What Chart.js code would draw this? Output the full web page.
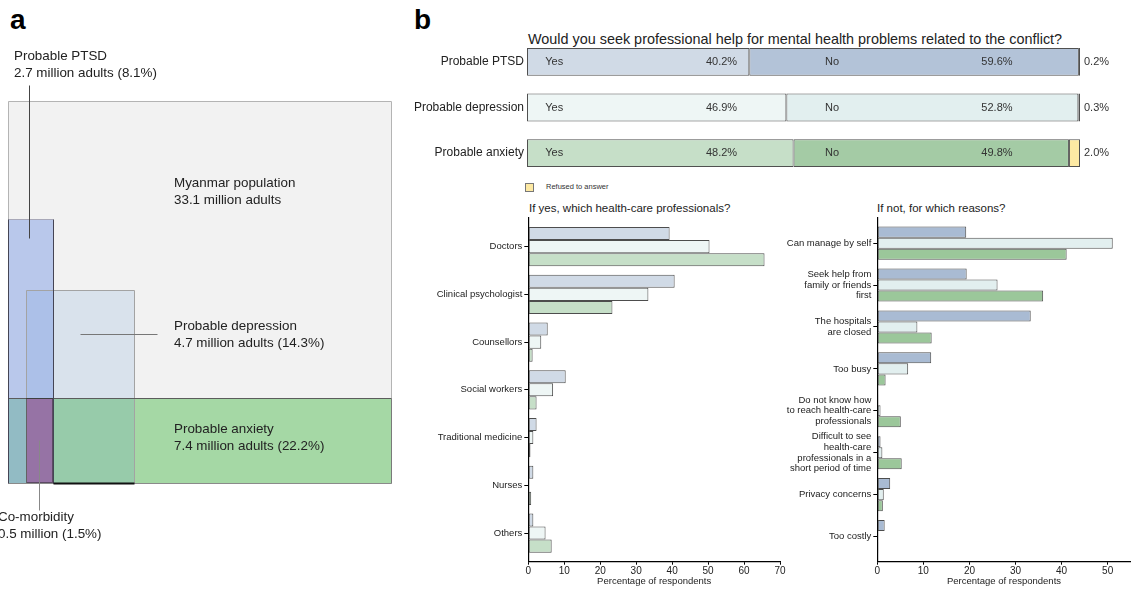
<!DOCTYPE html>
<html>
<head>
<meta charset="utf-8">
<script src="https://cdn.jsdelivr.net/npm/chart.js@4.4.0/dist/chart.umd.min.js"></script>
<style>
  html, body { margin: 0; padding: 0; background: #fff; width: 1139px; height: 589px; overflow: hidden;
    font-family: "Liberation Sans", Arial, sans-serif; }
  canvas { position: absolute; }
  .t { position: absolute; white-space: nowrap; color: #222; line-height: 1; }
  .key { position: absolute; left: 525px; top: 183px; width: 7px; height: 7px; background: #fde9a3; border: 1px solid #777; }
</style>
</head>
<body>
<div class="t" style="left:10px;top:6px;font-size:28px;font-weight:bold;color:#000">a</div>
<div class="t" style="left:414px;top:6px;font-size:28px;font-weight:bold;color:#000">b</div>
<div class="t" style="left:528px;top:32px;font-size:14.4px;">Would you seek professional help for mental health problems related to the conflict?</div>
<div class="key"></div>
<div class="t" id="keyText" style="left:546px;top:183px;font-size:7.5px;color:#333"></div>
<div class="t" style="left:529px;top:203px;font-size:11.5px;">If yes, which health-care professionals?</div>
<div class="t" style="left:877px;top:203px;font-size:11.5px;">If not, for which reasons?</div>

<canvas id="venn" width="400" height="589" style="left:0;top:0"></canvas>
<canvas id="seek" width="739" height="161" style="left:400px;top:27px"></canvas>
<canvas id="prof" width="400" height="389" style="left:400px;top:200px"></canvas>
<canvas id="reason" width="359" height="389" style="left:780px;top:200px"></canvas>

<script>
// ---- data ----
const groups = ['Probable PTSD', 'Probable depression', 'Probable anxiety'];
const prevalencePct = [8.1, 14.3, 22.2];
const prevalenceMillions = [2.7, 4.7, 7.4];
const populationMillions = 33.1;
const comorbidityPct = 1.5;
const comorbidityMillions = 0.5;

const answers = ['Yes', 'No', 'Refused to answer'];
const seekYes = [40.2, 46.9, 48.2];
const seekNo = [59.6, 52.8, 49.8];
const seekRefused = [0.2, 0.3, 2.0];

const professionals = ['Doctors', 'Clinical psychologist', 'Counsellors', 'Social workers',
  'Traditional medicine', 'Nurses', 'Others'];
const profPTSD = [39.3, 40.7, 5.4, 10.4, 2.3, 1.4, 1.4];
const profDepression = [50.4, 33.4, 3.6, 6.9, 1.4, 0, 4.8];
const profAnxiety = [65.7, 23.4, 1.2, 2.3, 0.6, 0.8, 6.5];

const reasons = [
  ['Can manage by self'],
  ['Seek help from', 'family or friends', 'first'],
  ['The hospitals', 'are closed'],
  ['Too busy'],
  ['Do not know how', 'to reach health-care', 'professionals'],
  ['Difficult to see', 'health-care', 'professionals in a', 'short period of time'],
  ['Privacy concerns'],
  ['Too costly']
];
const reasonPTSD = [19.3, 19.4, 33.3, 11.7, 0.2, 0.7, 2.8, 1.6];
const reasonDepression = [51.1, 26.1, 8.7, 6.7, 0.7, 1.1, 1.4, 0];
const reasonAnxiety = [41.1, 36.0, 11.8, 1.8, 5.1, 5.3, 1.2, 0.2];

// ---- styling ----
const FONT = '"Liberation Sans", Arial, sans-serif';
Chart.defaults.font.family = FONT;
Chart.defaults.color = '#222';

const yesColors = ['#d0dae6', '#eef6f5', '#c6dfc8'];
const noColors = ['#b3c3d8', '#e2efef', '#a4cba5'];
const refusedColor = '#fde9a3';
const reasonColors = ['#a9bbd3', '#e2efef', '#9bc79a'];

document.getElementById('keyText').textContent = answers[2];

// ---- panel a: population boxes drawn in percent-of-box units ----
const ptsdHeight = 69.1;     // share of box height used by the PTSD block
const deprHeight = 50.5;     // share of box height used by the depression block
const deprLeft = 4.7;        // horizontal offset of the depression block
const ptsdBox = [0, prevalencePct[0] / ptsdHeight * 100, 0, ptsdHeight];
const deprBox = [deprLeft, deprLeft + prevalencePct[1] / deprHeight * 100, 0, deprHeight];
const anxBox = [0, 100, 0, prevalencePct[2]];
const comorbBox = [deprLeft, ptsdBox[1], 0, anxBox[3]];

const vennPlugin = {
  id: 'vennBoxes',
  beforeDatasetsDraw(chart) {
    const { ctx, scales: { x, y } } = chart;
    const px = ([x0, x1, y0, y1]) => {
      const l = Math.round(x.getPixelForValue(x0)), r = Math.round(x.getPixelForValue(x1));
      const t = Math.round(y.getPixelForValue(y1)), b = Math.round(y.getPixelForValue(y0));
      return [l, t, r - l, b - t];
    };
    const edge = (x0, y0, x1, y1, color, w = 1) => {
      ctx.save();
      ctx.strokeStyle = color; ctx.lineWidth = w;
      ctx.beginPath();
      ctx.moveTo(Math.round(x.getPixelForValue(x0)) + 0.5, Math.round(y.getPixelForValue(y0)) + 0.5);
      ctx.lineTo(Math.round(x.getPixelForValue(x1)) + 0.5, Math.round(y.getPixelForValue(y1)) + 0.5);
      ctx.stroke();
      ctx.restore();
    };
    const outline = ([x0, x1, y0, y1], color) => {
      edge(x0, y1, x1, y1, color); edge(x1, y1, x1, y0, color);
      edge(x1, y0, x0, y0, color); edge(x0, y0, x0, y1, color);
    };

    ctx.save();
    ctx.fillStyle = '#f2f2f2';
    ctx.fillRect(...px([0, 100, 0, 100]));
    ctx.fillStyle = 'rgb(165,216,165)'; ctx.fillRect(...px(anxBox));
    ctx.fillStyle = 'rgba(75,135,202,0.15)'; ctx.fillRect(...px(deprBox));
    ctx.fillStyle = 'rgba(128,158,228,0.5)'; ctx.fillRect(...px(ptsdBox));
    ctx.fillStyle = '#9673a5'; ctx.fillRect(...px(comorbBox));
    ctx.restore();

    outline([0, 100, 0, 100], '#b4b4b4');
    outline(deprBox, '#a3a3a3');
    edge(anxBox[0], anxBox[3], anxBox[1], anxBox[3], '#5c5c5c');
    edge(anxBox[1], anxBox[3], anxBox[1], anxBox[2], '#7a7a7a');
    edge(anxBox[0], anxBox[2], anxBox[1], anxBox[2], '#8a8a8a');
    edge(ptsdBox[0], ptsdBox[3], ptsdBox[1], ptsdBox[3], '#a8a8b8');
    edge(ptsdBox[0], ptsdBox[2], ptsdBox[0], ptsdBox[3], '#454555');
    edge(ptsdBox[1], ptsdBox[2], ptsdBox[1], ptsdBox[3], '#454555');
    edge(ptsdBox[1], deprBox[2], deprBox[1], deprBox[2], '#111', 2);
    ctx.save();
    ctx.setLineDash([1, 1]);
    const [cl, ct, cw, ch] = px(comorbBox);
    ctx.strokeStyle = '#222'; ctx.lineWidth = 1;
    ctx.strokeRect(cl + 0.5, ct + 0.5, cw - 1, ch - 1);
    ctx.restore();

    // leader lines
    edge(5.5, 64.1, 5.5, 104.3, '#444');
    edge(18.8, 39.0, 38.9, 39.0, '#777');
    edge(8.1, 11.3, 8.1, -7.1, '#888');
  },
  afterDraw(chart) {
    const { ctx } = chart;
    ctx.save();
    ctx.fillStyle = '#222';
    ctx.font = '13.4px ' + FONT;
    ctx.textBaseline = 'alphabetic';
    const label = (lines, lx, ly) => lines.forEach((s, i) => ctx.fillText(s, lx, ly + i * 16.5));
    label([groups[0], `${prevalenceMillions[0]} million adults (${prevalencePct[0]}%)`], 14, 60);
    label(['Myanmar population', `${populationMillions} million adults`], 174, 187);
    label([groups[1], `${prevalenceMillions[1]} million adults (${prevalencePct[1]}%)`], 174, 330);
    label([groups[2], `${prevalenceMillions[2]} million adults (${prevalencePct[2]}%)`], 174, 433);
    label(['Co-morbidity', `${comorbidityMillions} million (${comorbidityPct}%)`], -2, 521);
    ctx.restore();
  }
};

new Chart(document.getElementById('venn'), {
  type: 'scatter',
  data: { datasets: [] },
  options: {
    responsive: false, animation: false,
    layout: { padding: { left: 8, top: 101, right: 9, bottom: 106 } },
    plugins: { legend: { display: false }, tooltip: { enabled: false } },
    scales: {
      x: { type: 'linear', min: 0, max: 100, display: false },
      y: { type: 'linear', min: 0, max: 100, display: false }
    }
  },
  plugins: [vennPlugin]
});

// ---- panel b top: stacked answers ----
const seekLabels = {
  id: 'seekLabels',
  afterDatasetsDraw(chart) {
    const { ctx, scales: { x } } = chart;
    ctx.save();
    ctx.font = '11px ' + FONT;
    ctx.fillStyle = '#333';
    ctx.textBaseline = 'middle';
    chart.getDatasetMeta(0).data.forEach((bar, i) => {
      const cy = bar.y;
      ctx.textAlign = 'left';
      ctx.fillText(answers[0], x.getPixelForValue(3.3), cy);
      ctx.fillText(answers[1], x.getPixelForValue(53.9), cy);
      ctx.fillText(seekRefused[i].toFixed(1) + '%', x.getPixelForValue(100) + 4, cy);
      ctx.textAlign = 'right';
      ctx.fillText(seekYes[i].toFixed(1) + '%', x.getPixelForValue(38.0), cy);
      ctx.fillText(seekNo[i].toFixed(1) + '%', x.getPixelForValue(87.8), cy);
    });
    ctx.restore();
  }
};

const seekSeries = [seekYes, seekNo, seekRefused];
const seekFill = [yesColors, noColors, [refusedColor, refusedColor, refusedColor]];
new Chart(document.getElementById('seek'), {
  type: 'bar',
  data: {
    labels: groups,
    datasets: seekSeries.map((vals, k) => ({
      label: answers[k], data: vals, backgroundColor: seekFill[k],
      borderColor: '#505050', borderWidth: 1, borderSkipped: false,
      categoryPercentage: 1, barPercentage: 0.61
    }))
  },
  options: {
    indexAxis: 'y', responsive: false, animation: false,
    layout: { padding: { top: 12, bottom: 12, right: 59 } },
    plugins: { legend: { display: false }, tooltip: { enabled: false } },
    scales: {
      x: { stacked: true, min: 0, max: 100, display: false },
      y: {
        stacked: true, grid: { display: false, drawTicks: false, tickLength: 0 }, border: { display: false },
        ticks: { color: '#222', font: { size: 12 }, padding: 3 },
        afterFit(s) { s.width = 127; }
      }
    }
  },
  plugins: [seekLabels]
});

// ---- panel b bottom: grouped horizontal bars ----
function groupedBars(id, cats, series, colors, cfg) {
  new Chart(document.getElementById(id), {
    type: 'bar',
    data: {
      datasets: series.map((vals, k) => ({
        label: groups[k],
        data: vals.map((v, i) => ({ x: v, y: i })),
        backgroundColor: colors[k], borderColor: '#4d4d4d', borderWidth: 1, borderSkipped: false,
        categoryPercentage: cfg.groupWidth, barPercentage: 1
      }))
    },
    options: {
      indexAxis: 'y', responsive: false, animation: false,
      layout: { padding: { top: 18, right: cfg.padRight } },
      plugins: { legend: { display: false }, tooltip: { enabled: false } },
      scales: {
        x: {
          type: 'linear', min: 0, max: cfg.xMax,
          ticks: { stepSize: 10, includeBounds: false, padding: 1, font: { size: 10 }, color: '#222', maxRotation: 0 },
          grid: { drawOnChartArea: false, tickLength: 3, color: '#000' },
          border: { color: '#000', width: 1.2 },
          title: { display: true, text: 'Percentage of respondents', font: { size: 9.5 }, color: '#222',
                   padding: { top: 0, bottom: 2 } },
          afterFit(s) { s.height = 27.3; }
        },
        y: {
          type: 'linear', reverse: true, offset: false, min: -0.6, max: cats.length - 0.4,
          ticks: { stepSize: 1, autoSkip: false, font: { size: 9.5, lineHeight: 1.13 }, color: '#222', padding: 2,
                   callback: (v) => cats[v] },
          grid: { drawOnChartArea: false, offset: false, tickLength: 4, color: '#000' },
          border: { color: '#000', width: 1.2 },
          afterFit(s) { s.width = cfg.axisWidth; }
        }
      }
    }
  });
}

groupedBars('prof', professionals, [profPTSD, profDepression, profAnxiety], yesColors,
  { groupWidth: 0.82, xMax: 70, axisWidth: 128.3, padRight: 20 });
groupedBars('reason', reasons, [reasonPTSD, reasonDepression, reasonAnxiety], reasonColors,
  { groupWidth: 0.79, xMax: 55, axisWidth: 97.3, padRight: 8.3 });
</script>
</body>
</html>
